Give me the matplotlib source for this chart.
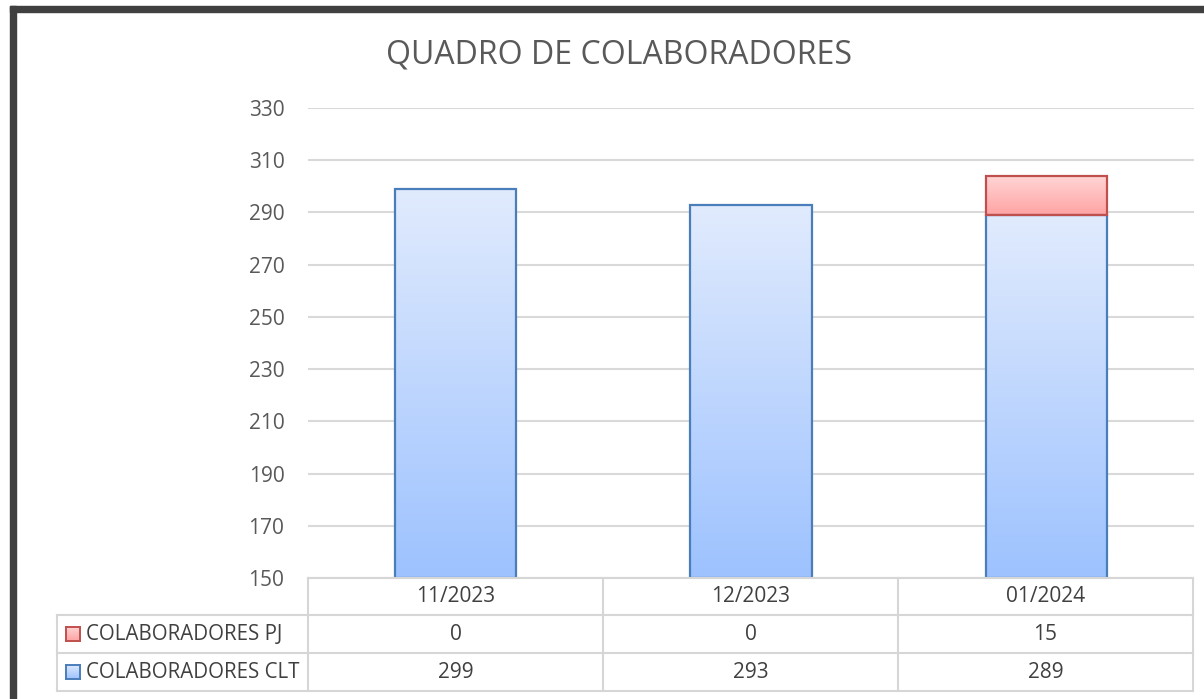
import numpy as np
import matplotlib.pyplot as plt
from matplotlib.patches import Rectangle
from matplotlib.lines import Line2D
from matplotlib.colors import LinearSegmentedColormap

# dados
meses = ["11/2023", "12/2023", "01/2024"]
clt = [299, 293, 289]
pj = [0, 0, 15]
nomes = ["COLABORADORES PJ", "COLABORADORES CLT"]
yticks = list(range(150, 331, 20))

W, H = 1204, 699
plt.rcParams["font.family"] = ["Open Sans", "DejaVu Sans"]

blue = LinearSegmentedColormap.from_list("blue", ["#9DC2FF", "#E1EBFD"])
red = LinearSegmentedColormap.from_list("red", ["#FFA3A3", "#FFD6D6"])
blue_edge = "#4A7EBB"
red_edge = "#C0504D"
grid_c = "#D9D9D9"
txt_c = "#595959"
grad = np.linspace(0, 1, 256).reshape(-1, 1)


def fx(x):
    return x / W


def fy(y):
    return 1 - y / H


fig = plt.figure(figsize=(W / 100, H / 100), dpi=100)
fig.patch.set_facecolor("white")

# moldura escura (esquerda e topo)
fig.patches.append(Rectangle((fx(10), 0), fx(16) - fx(10), fy(6), transform=fig.transFigure, color="#404040"))
fig.patches.append(Rectangle((fx(10), fy(12)), 1 - fx(10), fy(6) - fy(12), transform=fig.transFigure, color="#404040"))

# area do grafico
ax = fig.add_axes([fx(308), fy(578), fx(1194) - fx(308), fy(108) - fy(578)])
w = 0.41
x = np.arange(len(meses))
for i in x:
    b0, b1 = 150, clt[i]
    ax.imshow(grad, cmap=blue, origin="lower", aspect="auto",
              extent=[i - w / 2, i + w / 2, b0, b1], zorder=3)
    ax.add_patch(Rectangle((i - w / 2, b0), w, b1 - b0, fill=False,
                           edgecolor=blue_edge, lw=1.6, zorder=4))
    if pj[i] > 0:
        t0, t1 = clt[i], clt[i] + pj[i]
        ax.imshow(grad, cmap=red, origin="lower", aspect="auto",
                  extent=[i - w / 2, i + w / 2, t0, t1], zorder=3)
        ax.add_patch(Rectangle((i - w / 2, t0), w, t1 - t0, fill=False,
                               edgecolor=red_edge, lw=1.6, zorder=4))

ax.set_xlim(-0.5, len(meses) - 0.5)
ax.set_ylim(150, 330)
ax.set_yticks(yticks)
ax.set_xticks([])
ax.grid(axis="y", color=grid_c, lw=1.5, zorder=0)
for s in ax.spines.values():
    s.set_visible(False)
ax.tick_params(axis="y", length=0, pad=17, labelsize=15, labelcolor=txt_c)
ax.set_facecolor("none")

fig.text(fx(619), fy(55), "QUADRO DE COLABORADORES", ha="center", va="center",
         fontsize=23, color=txt_c)

# tabela de dados
line_c = "#D6D6D6"
cols = [308, 603, 898, 1193]
rows = [578, 615, 653, 691]


def hline(y, x0, x1):
    fig.add_artist(Line2D([fx(x0), fx(x1)], [fy(y), fy(y)], color=line_c, lw=1.5))


def vline(x0, y0, y1):
    fig.add_artist(Line2D([fx(x0), fx(x0)], [fy(y0), fy(y1)], color=line_c, lw=1.5))


hline(rows[0], cols[0], cols[-1])
for r in rows[1:]:
    hline(r, 57, cols[-1])
vline(57, rows[1], rows[-1])
for c in cols:
    vline(c, rows[0], rows[-1])

tsize = 15
tcol = "#404040"
for j, m in enumerate(meses):
    xc = (cols[j] + cols[j + 1]) / 2
    fig.text(fx(xc), fy((rows[0] + rows[1]) / 2), m, ha="center", va="center", fontsize=tsize, color=tcol)
    fig.text(fx(xc), fy((rows[1] + rows[2]) / 2), str(pj[j]), ha="center", va="center", fontsize=tsize, color=tcol)
    fig.text(fx(xc), fy((rows[2] + rows[3]) / 2), str(clt[j]), ha="center", va="center", fontsize=tsize, color=tcol)

for k, (nome, cm, ec) in enumerate(zip(nomes, [red, blue], [red_edge, blue_edge])):
    yc = (rows[k + 1] + rows[k + 2]) / 2
    kax = fig.add_axes([fx(66), fy(yc + 7), fx(14), 14 / H])
    kax.imshow(grad, cmap=cm, origin="lower", aspect="auto", extent=[0, 1, 0, 1])
    kax.set_xticks([])
    kax.set_yticks([])
    for s in kax.spines.values():
        s.set_color(ec)
        s.set_linewidth(1.4)
    fig.text(fx(86), fy(yc), nome, ha="left", va="center", fontsize=14.8, color=tcol)

fig.savefig("out.png", dpi=100)
